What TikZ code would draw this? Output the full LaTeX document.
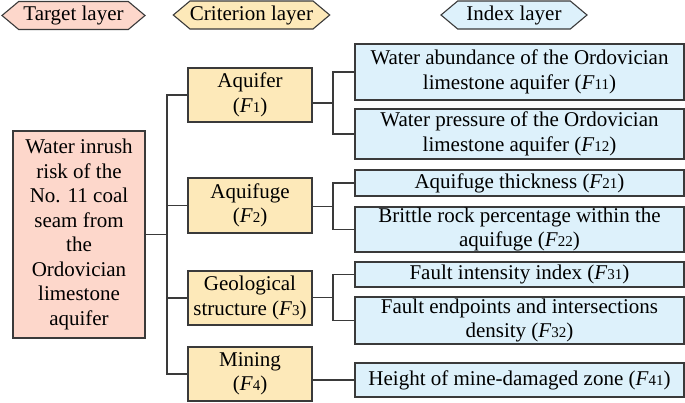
\documentclass[tikz,border=0pt]{standalone}
\usepackage{fontspec}
\setmainfont{Liberation Serif}
\usepackage{xcolor}
\usepackage{tikz}
\usetikzlibrary{calc, positioning, shapes.symbols}
\definecolor{targetfill}{HTML}{FDD7CB}
\definecolor{critfill}{HTML}{FDE9B9}
\definecolor{indexfill}{HTML}{DDF1FB}
\definecolor{edgegray}{HTML}{3A3A3A}
\tikzstyle{head}=[signal, signal to=west and east, signal pointer angle=80, draw=edgegray, minimum height=28pt, inner sep=0pt]
\tikzstyle{box}=[rectangle, draw=edgegray, align=center, inner sep=0pt]
\tikzstyle{link}=[draw=edgegray]
\newcommand{\Fi}[1]{(\textit{F}{\fontsize{15}{15}\selectfont #1})}

\begin{document}
\begin{tikzpicture}[x=1pt, y=-1pt]
\tikzset{every node/.style={font=\fontsize{21}{24.5}\selectfont}}

%  all lines
\tikzset{every path/.style={line width=1.1pt}}

\useasboundingbox (0,0) rectangle (685,402);

% headings
\node[head, fill=targetfill, minimum width=143pt] (hTarget) at (73.5,15.5) {Target layer};
\node[head, fill=critfill, minimum width=143pt] (hCrit) at (251.5,15) {Criterion layer};
\node[head, fill=indexfill, minimum width=146pt] (hIndex) at (514,15) {Index layer};

% target layer
\node[box, fill=targetfill, minimum width=132pt, minimum height=207pt] (target) at (79,234.5)
  {Water inrush\\risk of the\\No. 11 coal\\seam from\\the\\Ordovician\\limestone\\aquifer};

% criterion layer
\node[box, fill=critfill, minimum width=124pt, minimum height=54pt] (c1) at (250,95) {Aquifer\\\Fi{1}};
\node[box, fill=critfill, minimum width=124pt, minimum height=55pt] (c2) at (250,205.5) {Aquifuge\\\Fi{2}};
\node[box, fill=critfill, minimum width=124pt, minimum height=54pt] (c3) at (250,298) {Geological\\structure \Fi{3}};
\node[box, fill=critfill, minimum width=124pt, minimum height=54pt] (c4) at (250,374) {Mining\\\Fi{4}};

% index layer
\node[box, fill=indexfill, minimum width=329pt, minimum height=56pt] (i1) at (519.5,72) {Water abundance of the Ordovician\\limestone aquifer \Fi{11}};
\node[box, fill=indexfill, minimum width=329pt, minimum height=50pt] (i2) at (519.5,134) {Water pressure of the Ordovician\\limestone aquifer \Fi{12}};
\node[box, fill=indexfill, minimum width=329pt, minimum height=26pt] (i3) at (519.5,183) {Aquifuge thickness \Fi{21}};
\node[box, fill=indexfill, minimum width=329pt, minimum height=45pt] (i4) at (519.5,229.5) {Brittle rock percentage within the\\aquifuge \Fi{22}};
\node[box, fill=indexfill, minimum width=329pt, minimum height=25pt] (i5) at (519.5,274.5) {Fault intensity index \Fi{31}};
\node[box, fill=indexfill, minimum width=329pt, minimum height=47pt] (i6) at (519.5,320.5) {Fault endpoints and intersections\\density \Fi{32}};
\node[box, fill=indexfill, minimum width=329pt, minimum height=34pt] (i7) at (519.5,380) {Height of mine-damaged zone \Fi{41}};

% trunk from target to criteria
\coordinate (trunk) at (167,0);
\draw[link] (target.east) -- (target.east -| trunk);
\draw[link] (c1.west) -- (c1.west -| trunk) -- (c4.west -| trunk) -- (c4.west);
\draw[link] (c2.west) -- (c2.west -| trunk);
\draw[link] (c3.west) -- (c3.west -| trunk);

% brackets from criteria to indices
\coordinate (br) at (333,0);
\foreach \c/\a/\b in {c1/i1/i2, c2/i3/i4, c3/i5/i6}{
  \draw[link] (\a.west) -- (\a.west -| br) -- (\b.west -| br) -- (\b.west);
  \coordinate (m\c) at ($(\a.west)!.5!(\b.west)$);
  \draw[link] (m\c -| \c.east) -- (m\c -| br);
}
\draw[link] (i7.west -| c4.east) -- (i7.west);

\end{tikzpicture}
\end{document}
